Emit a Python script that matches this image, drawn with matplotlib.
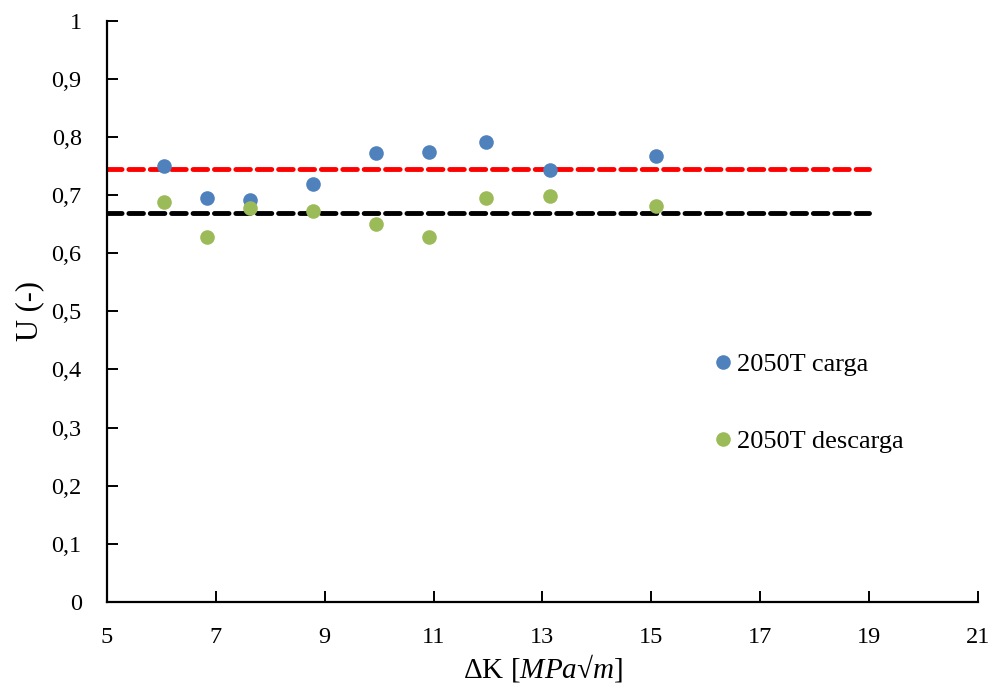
import matplotlib
matplotlib.use('Agg')
import matplotlib.pyplot as plt
from matplotlib.ticker import FuncFormatter

plt.rcParams['font.family'] = ['Liberation Serif', 'DejaVu Serif']
plt.rcParams['mathtext.fontset'] = 'custom'
plt.rcParams['mathtext.rm'] = 'Liberation Serif'
plt.rcParams['mathtext.it'] = 'Liberation Serif:italic'

# data
dk = [6.05, 6.85, 7.63, 8.79, 9.94, 10.92, 11.97, 13.13, 15.09]
u_carga = [0.751, 0.695, 0.691, 0.719, 0.773, 0.775, 0.792, 0.743, 0.767]
u_descarga = [0.689, 0.628, 0.678, 0.672, 0.650, 0.628, 0.695, 0.699, 0.682]
line_x = [5, 19]
u_mean_carga = 0.745
u_mean_descarga = 0.670

BLUE = '#4F81BD'
GREEN = '#9BBB59'

fig = plt.figure(figsize=(9.95, 6.95), dpi=100)
ax = fig.add_axes([0.1072, 0.1342, 0.876, 0.8356])

ax.plot(line_x, [u_mean_carga] * 2, color='red', lw=3.5, dashes=(3.0, 1.4),
        dash_capstyle='round', zorder=2)
ax.plot(line_x, [u_mean_descarga] * 2, color='black', lw=3.5, dashes=(3.0, 1.4),
        dash_capstyle='round', zorder=2)

ax.plot(dk, u_carga, 'o', color=BLUE, ms=10.5, mew=0, label='2050T carga', zorder=3)
ax.plot(dk, u_descarga, 'o', color=GREEN, ms=10.5, mew=0, label='2050T descarga', zorder=3)

ax.set_xlim(5, 21)
ax.set_ylim(0, 1)
ax.set_xticks(range(5, 22, 2))
ax.set_yticks([i / 10 for i in range(11)])
ax.yaxis.set_major_formatter(FuncFormatter(lambda v, p: ('%g' % round(v, 1)).replace('.', ',')))

for s in ['top', 'right']:
    ax.spines[s].set_visible(False)
for s in ['left', 'bottom']:
    ax.spines[s].set_linewidth(1.6)
ax.tick_params(direction='in', length=8, width=1.4, labelsize=17.5, pad=18)

ax.set_xlabel('ΔK [$MPa$√$m$]', fontsize=21, labelpad=3)
ax.set_ylabel('U (-)', fontsize=22, labelpad=5)

ax.legend(loc='center left', bbox_to_anchor=(0.686, 0.343), frameon=False, fontsize=19,
          labelspacing=2.03, handletextpad=0.23, handlelength=0.6, borderaxespad=0)

fig.savefig('out.png', dpi=100)
